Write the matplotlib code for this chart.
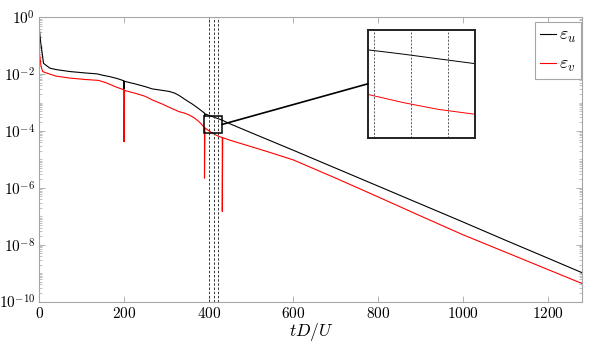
import numpy as np
import matplotlib
matplotlib.use("Agg")
import matplotlib.pyplot as plt
from matplotlib.ticker import FuncFormatter, LogLocator, NullLocator, FixedLocator, NullFormatter
from matplotlib.patches import Rectangle, ConnectionPatch

plt.rcParams['mathtext.fontset'] = 'cm'
plt.rcParams['font.family'] = ['DejaVu Serif']

# ---- data (t, log10 of error) ----
t_u = [0, 3.5, 10, 25, 40, 73, 110, 136, 150, 167, 185, 199, 200, 200, 200.5,
       228, 250, 267, 290, 307, 320, 330, 345, 362, 375, 389, 390, 390, 392,
       400, 410, 420, 432, 449, 500, 600, 700, 800, 900, 1000, 1100, 1200, 1282]
log_u = [-0.39, -0.91, -1.62, -1.79, -1.84, -1.91, -1.96, -1.99, -2.04, -2.09, -2.16, -2.23, -2.24, -2.53, -2.25,
         -2.35, -2.44, -2.52, -2.57, -2.61, -2.67, -2.75, -2.9, -3.06, -3.2, -3.36, -3.37, -3.5, -3.4,
         -3.45, -3.5, -3.555, -3.62, -3.74, -4.06, -4.68, -5.31, -5.94, -6.57, -7.2, -7.84, -8.47, -8.99]

t_v = [0, 1, 4, 8, 25, 40, 73, 110, 140, 157, 181, 199, 200, 200, 200.5,
       228, 250, 267, 290, 307, 330, 345, 354, 365, 377, 389, 390, 390, 391,
       400, 410, 420, 431.8, 432, 432, 433, 449, 500, 550, 600, 700, 800, 900, 1000, 1100, 1200, 1282]
log_v = [-1.72, -1.33, -1.72, -1.91, -2.0, -2.07, -2.14, -2.19, -2.22, -2.3, -2.45, -2.55, -2.56, -4.38, -2.57,
         -2.68, -2.78, -2.91, -3.05, -3.17, -3.32, -3.38, -3.44, -3.53, -3.67, -3.86, -3.87, -5.66, -3.89,
         -3.99, -4.085, -4.165, -4.23, -4.23, -6.83, -4.235, -4.32, -4.55, -4.78, -5.02, -5.66, -6.32, -6.99, -7.65, -8.26, -8.87, -9.37]

eps_u = 10.0 ** np.array(log_u)
eps_v = 10.0 ** np.array(log_v)

dashed_t = [401.4, 412.2, 423.0]
xticks = [0, 200, 400, 600, 800, 1000, 1200]
ytick_exps = [0, -2, -4, -6, -8, -10]

# ---- figure ----
W, H = 598, 343
fig = plt.figure(figsize=(W / 100, H / 100), dpi=100)
ax = fig.add_axes([39.3 / W, (H - 301.5) / H, (582.3 - 39.3) / W, (301.5 - 17.3) / H])

gray = '#a6a6a6'
ax.plot(t_u, eps_u, color='black', lw=0.8, label=r'$\varepsilon_u$')
ax.plot(t_v, eps_v, color='#ff0000', lw=0.8, label=r'$\varepsilon_v$')
for tx in dashed_t:
    ax.axvline(tx, color='#333333', lw=0.7, ls=(0, (2.5, 1.8)))

ax.set_yscale('log')
ax.set_xlim(0, 1282)
ax.set_ylim(1e-10, 1)
ax.xaxis.set_major_locator(FixedLocator(xticks))
ax.xaxis.set_minor_locator(NullLocator())
ax.xaxis.set_major_formatter(FuncFormatter(lambda v, p: r'$%d$' % round(v)))
ax.yaxis.set_major_locator(FixedLocator([10.0 ** e for e in ytick_exps]))
ax.yaxis.set_minor_locator(LogLocator(base=10, subs=np.arange(1, 10), numticks=40))
ax.yaxis.set_major_formatter(FuncFormatter(lambda v, p: r'$10^{%d}$' % round(np.log10(v))))
ax.yaxis.set_minor_formatter(NullFormatter())
ax.tick_params(which='both', direction='in', top=True, right=True, color=gray)
ax.tick_params(which='major', length=4, width=0.6, labelsize=11, pad=3)
ax.tick_params(which='minor', length=2, width=0.5)
for s in ax.spines.values():
    s.set_color(gray)
    s.set_linewidth(0.8)
ax.set_xlabel(r'$tD/U$', fontsize=12.5, labelpad=0)

leg = ax.legend(loc='upper right', bbox_to_anchor=(0.997, 0.985), borderaxespad=0, fontsize=13,
                handlelength=0.9, handletextpad=0.15, borderpad=0.25, labelspacing=0.55,
                fancybox=False, framealpha=1, edgecolor=gray)
leg.get_frame().set_linewidth(0.8)

# zoom rectangle on main axes
rx0, rx1 = 390.0, 431.4
ry0, ry1 = 10 ** -4.08, 10 ** -3.46
ax.add_patch(Rectangle((rx0, ry0), rx1 - rx0, ry1 - ry0, fill=False, edgecolor='black', lw=1.1, zorder=5))

# inset
ins = fig.add_axes([367.7 / W, (H - 137.7) / H, (475.3 - 367.7) / W, (137.7 - 30) / H])
ins.plot(t_u, eps_u, color='black', lw=0.7)
ins.plot(t_v, eps_v, color='#ff0000', lw=0.7)
for tx in dashed_t:
    ins.axvline(tx, color='#444444', lw=0.6, ls=(0, (2.5, 1.8)))
ins.set_yscale('log')
ins.set_xlim(399.5, 431)
ins.set_ylim(10 ** -4.508, 10 ** -3.208)
ins.set_xticks([]); ins.set_yticks([])
ins.yaxis.set_minor_locator(NullLocator())
for s in ins.spines.values():
    s.set_color('#222222')
    s.set_linewidth(1.4)

con = ConnectionPatch(xyA=(rx1, 10 ** -3.77), coordsA=ax.transData,
                      xyB=(0, 0.5), coordsB=ins.transAxes, color='black', lw=1.2)
fig.add_artist(con)

fig.savefig('out.png', dpi=100)
